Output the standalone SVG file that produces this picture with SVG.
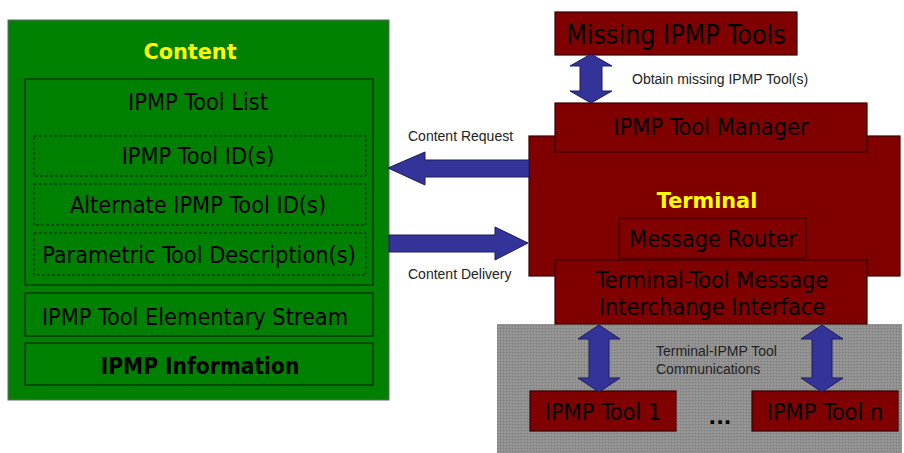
<svg xmlns="http://www.w3.org/2000/svg" width="904" height="453" viewBox="0 0 904 453">
  <style>
    .green { fill: #008000; }
    .frame { fill: none; stroke: #0a2a0a; stroke-width: 1.2; }
    .dash { fill: none; stroke: #0a2a0a; stroke-width: 1; stroke-dasharray: 3 2; }
    .red { fill: #800000; stroke: #3a0000; stroke-width: 1.2; }
    .lbl { font-family: "DejaVu Sans Condensed", "DejaVu Sans", sans-serif; font-stretch: condensed; font-size: 23.3px; fill: #000; text-anchor: middle; }
    .title { font-family: "DejaVu Sans", sans-serif; font-weight: bold; font-size: 20.8px; fill: #ffff00; text-anchor: middle; }
    .small { font-family: "Liberation Sans", Arial, sans-serif; font-size: 14px; fill: #222; }
    .arrow { fill: #333399; stroke: #1c1c5c; stroke-width: 1; }
  </style>
  <defs>
    <pattern id="grain" width="3" height="3" patternUnits="userSpaceOnUse">
      <rect width="3" height="3" fill="#8e8e8e"/>
      <rect width="1" height="1" fill="#a2a2a2"/>
      <rect x="2" y="1" width="1" height="1" fill="#7e7e7e"/>
      <rect x="1" y="2" width="1" height="1" fill="#9a9a9a"/>
    </pattern>
  </defs>

  <!-- Content side -->
  <g id="content">
    <rect class="green" x="8" y="20" width="381" height="380" stroke="#666" stroke-width="1"/>
    <text class="title" x="190" y="59">Content</text>
  </g>
  <g id="tool-list">
    <rect class="frame" x="25" y="79" width="348" height="206"/>
    <text class="lbl" x="198" y="110">IPMP Tool List</text>
  </g>
  <g id="tool-ids">
    <rect class="dash" x="34" y="136" width="332" height="40"/>
    <text class="lbl" x="198" y="164">IPMP Tool ID(s)</text>
  </g>
  <g id="alternate-ids">
    <rect class="dash" x="34" y="184" width="332" height="41"/>
    <text class="lbl" x="198" y="213">Alternate IPMP Tool ID(s)</text>
  </g>
  <g id="parametric">
    <rect class="dash" x="34" y="233" width="332" height="42"/>
    <text class="lbl" x="199" y="263">Parametric Tool Description(s)</text>
  </g>
  <g id="elementary-stream">
    <rect class="frame" x="25" y="293" width="348" height="43"/>
    <text class="lbl" x="195" y="325">IPMP Tool Elementary Stream</text>
  </g>
  <g id="ipmp-information">
    <rect class="frame" x="25" y="343" width="348" height="42"/>
    <text class="lbl" x="200" y="374" style="font-size:22.5px;font-weight:bold">IPMP Information</text>
  </g>

  <!-- Terminal side -->
  <g id="tools-area">
    <rect x="497" y="324" width="405" height="129" fill="url(#grain)"/>
  </g>
  <g id="missing-tools">
    <rect class="red" x="555" y="12" width="242" height="43"/>
    <text class="lbl" x="676" y="44" style="font-size:26.6px">Missing IPMP Tools</text>
  </g>
  <g id="terminal">
    <rect class="red" x="529" y="136" width="371" height="140"/>
    <text class="title" x="707" y="208">Terminal</text>
  </g>
  <g id="tool-manager">
    <rect class="red" x="555" y="103" width="312" height="49"/>
    <text class="lbl" x="711" y="135">IPMP Tool Manager</text>
  </g>
  <g id="message-router">
    <rect class="red" x="619" y="218" width="187" height="40"/>
    <text class="lbl" x="713" y="247">Message Router</text>
  </g>
  <g id="interchange-interface">
    <rect class="red" x="555" y="260" width="312" height="64"/>
    <text class="lbl" x="712" y="288">Terminal-Tool Message</text>
    <text class="lbl" x="712" y="315">Interchange Interface</text>
  </g>
  <g id="tool-1">
    <rect class="red" x="530" y="391" width="146" height="40"/>
    <text class="lbl" x="603" y="420">IPMP Tool 1</text>
  </g>
  <text x="720" y="424" font-family="DejaVu Sans, sans-serif" font-size="20" font-weight="bold" text-anchor="middle" fill="#000">...</text>
  <g id="tool-n">
    <rect class="red" x="752" y="391" width="146" height="40"/>
    <text class="lbl" x="825" y="420">IPMP Tool n</text>
  </g>

  <!-- Connectors -->
  <g id="connectors">
    <!-- Missing tools <-> tool manager -->
    <path class="arrow" d="M591 54 L612 66 L602 66 L602 91 L612 91 L591 103 L570 91 L580 91 L580 66 L570 66 Z"/>
    <!-- Content Request -->
    <path class="arrow" d="M388 168 L425 152 L425 160 L529 160 L529 177 L425 177 L425 185 Z"/>
    <!-- Content Delivery -->
    <path class="arrow" d="M528 243 L495 227 L495 235 L389 235 L389 252 L495 252 L495 260 Z"/>
    <!-- Interface <-> tool 1 -->
    <path class="arrow" d="M599 325 L620 339 L609 339 L609 378 L620 378 L599 392 L578 378 L589 378 L589 339 L578 339 Z"/>
    <!-- Interface <-> tool n -->
    <path class="arrow" d="M822 325 L843 339 L832 339 L832 378 L843 378 L822 392 L801 378 L812 378 L812 339 L801 339 Z"/>
  </g>

  <!-- Connector labels -->
  <text class="small" x="632" y="84">Obtain missing IPMP Tool(s)</text>
  <text class="small" x="408" y="141">Content Request</text>
  <text class="small" x="408" y="279">Content Delivery</text>
  <text class="small" x="656" y="356">Terminal-IPMP Tool</text>
  <text class="small" x="656" y="374">Communications</text>
</svg>
